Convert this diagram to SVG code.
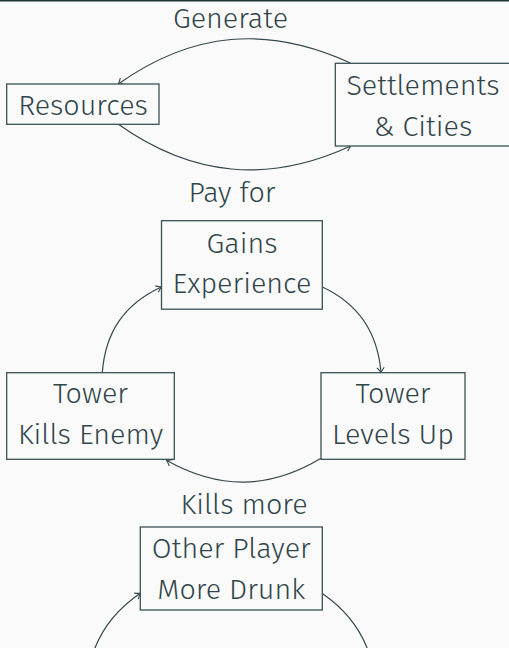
<svg xmlns="http://www.w3.org/2000/svg" width="509" height="648" viewBox="0 0 509 648">
<defs>
<style>
.bg{fill:#fafafa}
.box{fill:#fafafa;stroke:#3a5256;stroke-width:1.3}
.t{font-family:"Fira Sans","Open Sans","Noto Sans","Liberation Sans",sans-serif;font-weight:300;font-size:28.7px;fill:#30454a;text-anchor:middle}
.edge{fill:none;stroke:#34484d;stroke-width:1.2}
</style>
<marker id="arr" markerUnits="userSpaceOnUse" markerWidth="12" markerHeight="12" viewBox="-8 -6 10 12" refX="0" refY="0" orient="auto">
<path d="M-5,-3.6 Q-1.5,-0.8 0,0 Q-1.5,0.8 -5,3.6" fill="none" stroke="#34484d" stroke-width="1.1"/>
</marker>
</defs>
<rect class="bg" x="0" y="0" width="509" height="648"/>
<rect x="0" y="0" width="509" height="1.5" fill="#1e3536"/>

<g id="connectors">
<path class="edge" marker-end="url(#arr)" d="M350.5,63 C267.4,24.8 192.4,31.6 118.3,84"/>
<path class="edge" marker-end="url(#arr)" d="M118.3,124.3 C192.2,176.7 268.3,183.9 350.7,146"/>
<path class="edge" marker-end="url(#arr)" d="M102.3,372.7 C105.4,331.6 124.4,304.2 161.3,287"/>
<path class="edge" marker-end="url(#arr)" d="M322.3,287 C358.9,303.9 377.6,332 381,372.5"/>
<path class="edge" marker-end="url(#arr)" d="M321,458.3 C269.3,489.4 219.4,489.9 166.7,460.5"/>
<path class="edge" marker-end="url(#arr)" d="M86,700 C85.4,652 104.7,617.5 140.3,593.3"/>
<path class="edge" d="M322,593.3 C357.3,617.5 376.6,652 376,700"/>
</g>

<g id="label-generate"><text class="t" x="230.5" y="28.3">Generate</text></g>
<g id="label-payfor"><text class="t" x="232" y="201.7">Pay for</text></g>
<g id="label-killsmore"><text class="t" x="244" y="514">Kills more</text></g>

<g id="resources">
<rect class="box" x="6.7" y="84" width="152.3" height="40.3"/>
<text class="t" x="83" y="115">Resources</text>
</g>
<g id="settlements">
<rect class="box" x="335.3" y="63.3" width="176" height="82.7"/>
<text class="t" x="423" y="95.3">Settlements</text>
<text class="t" x="423" y="136.3">&amp; Cities</text>
</g>
<g id="gains">
<rect class="box" x="161.5" y="220.7" width="160.8" height="88.5"/>
<text class="t" x="242" y="252.7">Gains</text>
<text class="t" x="242" y="293.3">Experience</text>
</g>
<g id="kills-enemy">
<rect class="box" x="6.7" y="372.7" width="167.6" height="86.6"/>
<text class="t" x="90.5" y="403.3">Tower</text>
<text class="t" x="90.5" y="443.5">Kills Enemy</text>
</g>
<g id="levels-up">
<rect class="box" x="321" y="372.7" width="144" height="86.6"/>
<text class="t" x="393" y="403.3">Tower</text>
<text class="t" x="393" y="443.5">Levels Up</text>
</g>
<g id="other-player">
<rect class="box" x="140.3" y="527" width="182" height="83"/>
<text class="t" x="231.3" y="558.3">Other Player</text>
<text class="t" x="231.3" y="599.3">More Drunk</text>
</g>
</svg>
